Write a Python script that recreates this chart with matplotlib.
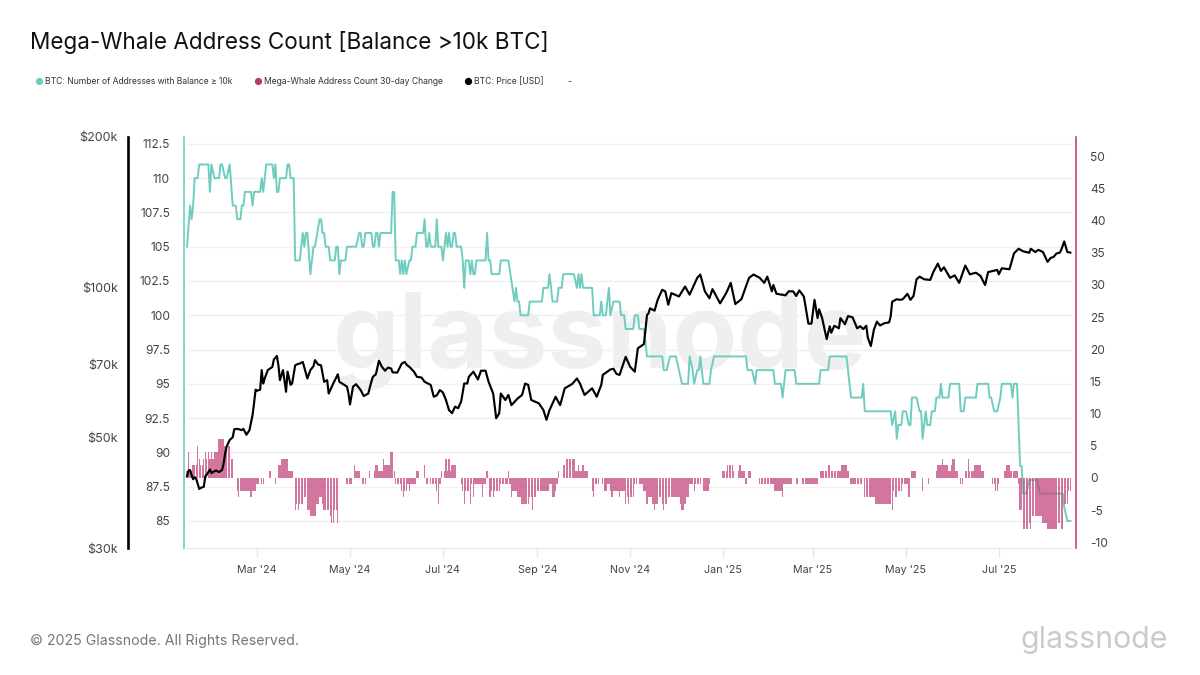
import numpy as np
import pandas as pd
import matplotlib
matplotlib.use("Agg")
import matplotlib.pyplot as plt
import matplotlib.dates as mdates

plt.rcParams['font.family'] = ['Inter', 'DejaVu Sans']

start = pd.Timestamp('2024-01-15')

# address count, days since start / value
count_days = [0,2,3,4,5,7,8,14,15,16,18,21,22,23,25,26,28,30,32,33,35,36,37,38,42,43,44,48,49,50,52,56,57,58,59,60,61,65,66,67,68,70,71,74,76,77,78,79,81,83,84,87,88,89,90,91,93,94,97,98,99,100,101,104,105,111,113,114,115,116,117,121,122,123,124,125,126,127,134,135,136,137,139,140,141,142,143,144,146,147,148,150,151,155,156,157,158,159,160,163,164,165,167,168,170,171,172,173,174,175,176,177,180,181,182,183,185,186,187,188,189,190,196,197,198,199,200,205,206,211,215,216,217,218,219,224,225,233,234,237,238,240,243,244,246,247,254,256,257,258,259,260,266,267,271,272,273,275,277,278,280,284,285,287,288,293,294,296,297,300,302,312,313,315,317,321,323,325,329,330,332,333,335,336,337,339,343,344,346,367,368,371,373,374,385,386,390,391,393,399,400,415,416,421,422,433,436,443,444,445,462,463,465,466,467,469,470,472,474,475,476,479,481,482,483,485,486,488,489,491,492,494,495,496,500,501,507,508,510,511,518,519,526,527,528,530,532,534,535,541,542,543,545,547,548,549,551,553,558,560,575,576,578,580]
count_vals = [105,108,107,108,110,110,111,111,109,111,110,110,111,111,110,110,111,108,108,107,107,108,108,109,109,108,109,109,110,109,111,111,110,111,109,109,110,110,111,111,110,110,104,104,106,105,106,106,103,105,105,107,107,106,106,105,105,104,104,105,105,103,104,104,105,105,106,106,105,105,106,106,105,105,106,106,105,106,106,109,109,104,104,103,104,103,104,103,104,104,105,105,106,106,107,105,105,106,105,105,107,105,105,104,106,105,106,105,105,106,106,105,105,104,102,104,104,103,104,103,103,104,104,106,104,104,103,103,104,104,101,102,101,101,100,100,101,101,102,102,103,101,101,102,102,103,103,102,103,102,103,102,102,100,100,101,100,100,102,100,101,101,100,100,99,99,100,100,99,99,97,97,96,96,97,97,96,95,95,97,96,95,96,96,97,95,95,96,97,97,96,96,95,96,96,95,95,94,96,96,95,95,96,96,97,97,94,94,95,93,93,92,93,91,92,92,93,93,92,92,94,94,93,93,91,93,92,92,93,93,94,94,95,94,94,95,95,93,93,94,94,95,95,94,94,93,93,94,95,95,94,95,95,89,89,87,87,88,88,87,87,86,85,85]

# 30-day change, each run lasts until the next day listed
change_from = [0,1,2,4,7,8,9,11,12,13,14,15,16,17,18,21,25,29,31,33,34,35,42,43,46,48,49,51,54,56,58,59,60,62,67,70,71,72,73,74,77,79,81,85,87,89,90,94,95,97,99,100,105,106,107,109,110,111,114,115,118,120,121,123,124,126,129,130,134,136,137,141,142,143,145,146,147,151,153,156,157,159,160,164,165,166,167,168,169,170,171,172,173,174,177,180,181,182,183,186,187,188,189,194,195,197,198,199,200,201,202,206,211,212,213,214,217,220,225,227,228,230,238,240,242,243,244,245,247,249,255,257,258,260,261,264,266,267,268,271,273,274,276,278,279,280,284,285,288,289,290,291,294,296,297,300,302,303,306,307,308,310,312,313,314,316,324,325,327,328,330,333,334,338,339,343,344,352,355,359,360,362,363,364,367,368,369,371,376,386,391,392,398,400,402,404,415,416,421,423,430,434,435,436,444,445,452,463,464,465,467,470,474,475,476,479,483,484,487,488,492,493,496,497,500,502,503,505,507,508,510,511,513,514,517,522,524,529,531,533,534,537,538,541,542,543,546,547,549,553,554,555,562,565,572,574,576,579,581]
change_vals = [1,4,1,2,5,3,2,3,4,3,4,3,4,3,4,6,5,3,0,-2,-3,-2,-3,-2,-1,0,-1,0,1,0,-1,0,2,3,1,0,-5,-4,-5,-4,-3,-5,-6,-4,-3,-4,-5,-6,-7,-5,-7,0,-1,0,-1,0,2,1,0,-1,0,1,0,1,2,1,3,2,4,1,-1,-2,-3,-2,-1,-2,-1,1,0,2,-1,0,-1,-2,-4,-1,1,0,1,3,1,3,1,2,0,-1,-2,-4,-2,-4,-1,-3,-1,-3,-1,1,0,-3,-2,-3,-2,-1,1,-1,-3,-2,-3,-4,-3,-5,-3,-2,-1,-3,-2,-1,1,0,2,3,1,2,1,2,1,0,-2,-3,-1,0,-1,-2,-1,-2,-3,-2,-3,-2,-4,-3,-4,-3,-1,0,-1,-2,-4,-3,-4,-5,-4,-3,-4,-5,-4,-3,-4,-5,-4,-3,-1,-2,-1,0,-2,-1,0,1,2,1,0,1,2,1,-1,0,1,0,-1,-2,-3,-1,0,-1,0,-1,0,1,2,1,2,1,0,-1,0,-3,-4,-5,-2,-3,-2,-1,-3,0,1,0,-2,0,-1,0,1,2,3,2,1,2,3,1,0,-1,0,1,3,1,2,1,0,-1,-2,-1,0,1,2,1,0,1,-1,-5,-8,-7,-8,-6,-7,-8,-7,-8,-4,-2,0]

# price in thousand usd
price_days = [0,1,2,3,4,5,6,8,9,11,12,13,15,16,17,19,21,23,24,25,26,28,30,31,33,34,36,37,39,41,43,44,45,46,48,49,50,51,53,56,57,59,60,61,63,65,66,68,69,71,72,74,76,79,81,83,84,86,88,90,92,93,96,99,100,105,106,107,109,111,114,116,119,121,122,124,126,128,130,132,134,135,138,141,143,144,146,149,151,154,156,160,162,164,166,168,170,172,174,176,178,180,182,184,185,188,191,193,196,198,201,203,205,206,209,211,213,217,220,222,224,226,231,234,236,238,242,245,248,253,256,258,261,266,269,272,273,278,280,282,284,288,291,294,296,300,301,302,303,304,307,309,312,314,316,318,323,327,330,335,337,340,343,345,350,354,357,360,364,369,372,376,379,381,384,385,387,393,395,398,400,402,405,408,410,412,414,415,417,420,422,423,425,428,429,432,434,437,440,442,444,446,447,449,451,453,455,458,461,462,463,466,468,470,473,475,477,479,481,484,488,490,493,495,497,501,504,507,511,514,518,521,524,526,532,533,535,540,543,546,549,553,554,557,559,562,565,567,569,571,573,574,576,578,580]
price_vals = [41.8,42.9,43.0,42.0,41.2,41.6,41.3,39.4,39.6,39.8,41.8,42.1,43.1,42.4,42.6,42.9,42.6,43.0,44.3,46.4,47.9,49.4,50.0,51.9,52.0,51.9,51.7,52.0,50.6,51.7,55.4,58.5,62.3,62.0,62.3,68.2,64.1,65.6,68.2,69.2,71.6,72.8,69.7,65.1,68.2,61.7,67.7,63.7,64.1,69.7,70.0,70.3,70.8,65.6,68.2,69.4,71.4,70.0,69.7,64.6,65.1,61.2,64.1,66.9,64.6,63.2,61.2,58.2,63.2,63.9,62.2,60.5,61.2,64.6,66.1,66.9,71.2,69.2,68.0,69.0,68.7,67.5,67.4,70.3,70.8,70.0,69.2,67.7,66.1,65.9,64.6,63.7,60.3,60.7,62.2,61.5,59.4,56.7,55.9,57.6,57.2,59.0,64.1,64.1,66.1,67.7,65.3,68.0,68.0,64.6,61.2,54.6,55.9,61.2,59.4,60.8,58.0,59.8,60.8,64.1,63.7,59.4,58.5,56.7,54.2,56.7,60.3,58.0,62.7,64.0,65.6,64.1,60.8,62.7,60.3,63.7,66.7,68.4,68.6,67.0,66.7,72.5,69.2,67.7,75.4,76.9,82.0,87.9,88.6,90.7,89.7,94.3,98.8,98.1,92.2,97.3,95.8,100.3,96.6,104.4,106.0,98.1,95.0,99.1,92.8,97.3,102.0,92.5,94.6,104.4,106.0,104.4,102.0,105.0,98.1,101.0,97.0,96.3,98.1,98.1,96.0,98.5,95.8,84.5,84.5,94.3,86.7,90.3,86.7,78.7,83.5,81.0,83.7,82.7,86.7,84.3,87.5,87.0,82.7,83.5,82.4,83.7,79.2,76.2,82.2,85.3,83.8,84.7,85.0,87.3,93.5,94.6,94.3,94.6,97.0,94.3,96.0,103.7,105.0,103.7,103.4,107.2,111.5,107.8,109.6,104.4,105.6,102.0,110.5,106.1,106.9,105.3,101.0,107.2,108.3,106.1,109.1,108.6,116.9,119.4,118.0,117.2,119.4,117.6,118.8,117.6,112.4,114.4,115.0,116.9,117.2,118.8,123.5,117.6,117.3]

count_ticks = [85,87.5,90,92.5,95,97.5,100,102.5,105,107.5,110,112.5]
count_labels = ['85','87.5','90','92.5','95','97.5','100','102.5','105','107.5','110','112.5']
change_ticks = [-10,-5,0,5,10,15,20,25,30,35,40,45,50]
price_ticks = [30,50,70,100,200]
price_labels = ['$30k','$50k','$70k','$100k','$200k']
date_ticks = ['2024-03-01','2024-05-01','2024-07-01','2024-09-01','2024-11-01','2025-01-01','2025-03-01','2025-05-01','2025-07-01']
date_labels = ["Mar '24","May '24","Jul '24","Sep '24","Nov '24","Jan '25","Mar '25","May '25","Jul '25"]

legend_names = ['BTC: Number of Addresses with Balance ≥ 10k','Mega-Whale Address Count 30-day Change','BTC: Price [USD]']
legend_colors = ['#6fcdc0','#b83a74','#000000']
legend_x = [39,258,468]

teal = '#6fcdc0'
pink = '#c93f7d'
txt = '#444444'

def to_dates(days):
    return start + pd.to_timedelta(days, unit='D')

change_daily = np.repeat(change_vals[:-1], np.diff(change_from))
change_idx = np.arange(len(change_daily))

fig = plt.figure(figsize=(12, 6.75), dpi=100)
ax = fig.add_axes([184/1200, 1-548/675, (1076-184)/1200, (548-137)/675])
ax.patch.set_visible(False)
ax2 = ax.twinx()
ax3 = ax.twinx()

ax.plot(to_dates(count_days), count_vals, color=teal, lw=1.4, zorder=3)
ax2.bar(to_dates(change_idx), change_daily, width=0.85, color='#c4487f', alpha=0.75, zorder=3)
ax3.plot(to_dates(price_days), price_vals, color='black', lw=1.55, zorder=3)

x0, x1 = to_dates(np.array([-2.0, 583.7]))
ax.set_xlim(x0, x1)
ax.set_ylim(83.03, 113.0)
ax2.set_ylim(-10.9, 53.0)
ax3.set_yscale('log')
ax3.set_ylim(30, 200)

# grid stops where the data stops
ax.hlines(count_ticks, to_dates(0), to_dates(581), color='#f0f0f0', lw=1, zorder=1)

ax.set_xticks(pd.to_datetime(date_ticks))
ax.set_xticklabels(date_labels, fontsize=7.7, color=txt)
ax.tick_params(axis='x', length=6.5, width=1, color='#e6e6e6', pad=6)
ax.set_yticks(count_ticks)
ax.set_yticklabels(count_labels, fontsize=8.6, color=txt)
ax.tick_params(axis='y', length=0, pad=10)

ax2.set_yticks(change_ticks)
ax2.set_yticklabels([str(v) for v in change_ticks], fontsize=8.6, color=txt)
ax2.tick_params(axis='y', length=0, pad=10)

ax3.set_yticks(price_ticks)
ax3.set_yticklabels(price_labels)
ax3.minorticks_off()
ax3.yaxis.tick_left()
ax3.tick_params(axis='y', length=0, pad=7, labelsize=9, labelcolor=txt)

for a in (ax, ax2, ax3):
    for s in a.spines.values():
        s.set_visible(False)
ax.spines['left'].set_visible(True)
ax.spines['left'].set_color(teal)
ax.spines['left'].set_linewidth(1.2)
ax.spines['bottom'].set_visible(True)
ax.spines['bottom'].set_color('#e6e6e6')
ax.spines['bottom'].set_bounds(mdates.date2num(to_dates(0)), mdates.date2num(to_dates(581)))
ax2.spines['right'].set_visible(True)
ax2.spines['right'].set_color(pink)
ax2.spines['right'].set_linewidth(1.2)
ax3.spines['left'].set_visible(True)
ax3.spines['left'].set_color('black')
ax3.spines['left'].set_linewidth(1.9)
ax3.spines['left'].set_position(('outward', 40.5))

# watermark
fig.text(600/1200, 1-368/675, 'glassnode', ha='center', va='baseline', fontsize=76, fontweight='bold', color='#efefef', zorder=-1)

fig.text(30/1200, 1-42/675, 'Mega-Whale Address Count [Balance >10k BTC]', fontsize=16.2, color='#111111', va='center')

for name, col, lx in zip(legend_names, legend_colors, legend_x):
    fig.text((lx+6)/1200, 1-81.5/675, name, fontsize=6.2, color='#333333', va='center')
    fig.add_artist(plt.Line2D([lx/1200], [1-81/675], marker='o', ms=4.2, color=col, ls='none'))
fig.text(567/1200, 1-81.5/675, '-', fontsize=6.2, color='#333333', va='center')

fig.text(30/1200, 1-640.5/675, '© 2025 Glassnode. All Rights Reserved.', fontsize=10.2, color='#777777', va='center')
fig.text(1168/1200, 1-640/675, 'glassnode', fontsize=21.8, color='#cbcbcb', ha='right', va='center')

fig.savefig('out.png', dpi=100)
